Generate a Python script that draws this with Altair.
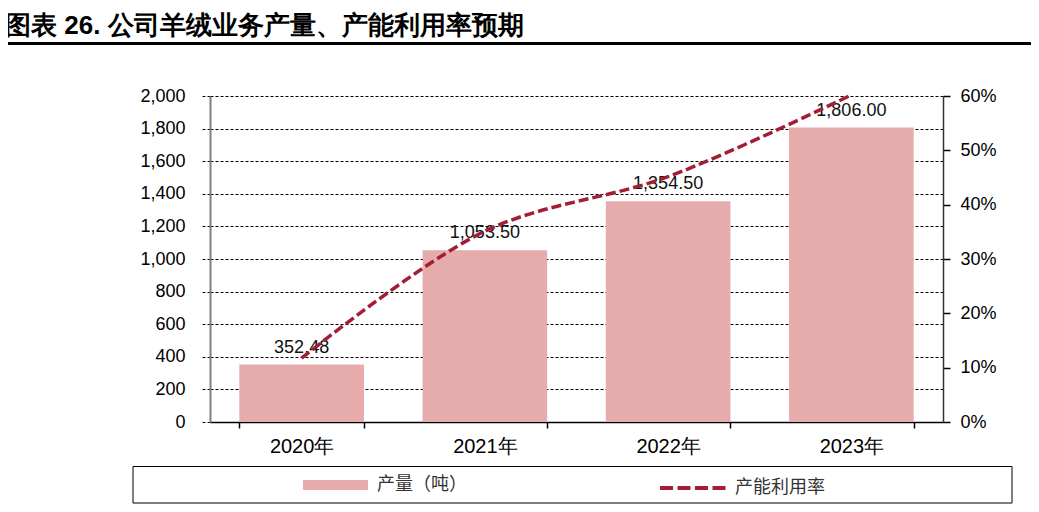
import altair as alt
import pandas as pd

years = ["2020年", "2021年", "2022年", "2023年"]
production = [352.48, 1053.50, 1354.50, 1806.00]
utilization = [0.1175, 0.3512, 0.4515, 0.6020]
bar_series = "产量（吨）"
line_series = "产能利用率"
title_text = "图表 26. 公司羊绒业务产量、产能利用率预期"
left_ticks = [0, 200, 400, 600, 800, 1000, 1200, 1400, 1600, 1800, 2000]
right_ticks = [0, 0.1, 0.2, 0.3, 0.4, 0.5, 0.6]

df = pd.DataFrame({"year": years, "prod": production, "util": utilization,
                   "s1": bar_series, "s2": line_series})

BAR = "#E6ABAB"
LINE = "#A31D35"
W, H = 733, 326
FONT = "Liberation Sans"
CJK = "Noto Sans CJK SC"

xenc = alt.X("year:N", sort=years, title=None,
             scale=alt.Scale(paddingInner=0.32, paddingOuter=0.16),
             axis=alt.Axis(labelAngle=0, labelFontSize=20, labelColor="#000", labelPadding=8,
                           tickBand="extent", tickSize=6, tickColor="#000", tickWidth=1.5,
                           domainColor="#000", domainWidth=1.5, grid=False))

yleft = alt.Y("prod:Q", title=None, scale=alt.Scale(domain=[0, 2000], nice=False),
              axis=alt.Axis(values=left_ticks, format=",.0f", grid=True, gridColor="#000",
                            gridDash=[3, 2], gridWidth=1, tickSize=8, tickColor="#000",
                            tickDash=[3, 2], labelFontSize=18, labelColor="#000", labelPadding=17,
                            domainColor="#808080", domainWidth=2))

yright = alt.Y("util:Q", title=None, scale=alt.Scale(domain=[0, 0.6], nice=False),
               axis=alt.Axis(orient="right", values=right_ticks, format=".0%", grid=False,
                             tickSize=7, tickColor="#000", tickWidth=1.5, labelFontSize=18,
                             labelColor="#000", labelPadding=10, domainColor="#333",
                             domainWidth=1.5))

base = alt.Chart(df)

bars = base.mark_bar().encode(
    x=xenc, y=yleft,
    fill=alt.Fill("s1:N", scale=alt.Scale(range=[BAR]),
                  legend=alt.Legend(orient="none", legendX=93, legendY=356.5, title=None,
                                    symbolType="M-1,-0.155H1V0.155H-1Z", symbolSize=4225,
                                    symbolStrokeWidth=0, symbolOpacity=1,
                                    labelFontSize=18, labelFont=CJK, labelColor="#333",
                                    labelOffset=9, padding=0)),
)

labels = base.mark_text(baseline="bottom", dy=-8, fontSize=18, font=FONT, color="#111").encode(
    x=xenc, y=yleft, text=alt.Text("prod:Q", format=",.2f"))

line = base.mark_line(interpolate="catmull-rom", strokeWidth=3.5, strokeDash=[10, 4]).encode(
    x=xenc, y=yright,
    stroke=alt.Stroke("s2:N", scale=alt.Scale(range=[LINE]),
                      legend=alt.Legend(orient="none", legendX=448, legendY=356.5, title=None,
                                        symbolType="stroke", symbolSize=4489,
                                        symbolStrokeWidth=4, symbolDash=[13, 4.5],
                                        labelFontSize=18, labelFont=CJK, labelColor="#333",
                                        labelOffset=6, padding=0)),
)

one = pd.DataFrame({"t": [title_text]})
title_mark = alt.Chart(one).mark_text(align="left", baseline="alphabetic", fontSize=26,
                                      fontWeight="bold", font=FONT, color="#000").encode(
    x=alt.value(-205), y=alt.value(-62), text="t:N")
underline = alt.Chart(one).mark_rule(color="#000", strokeWidth=3).encode(
    x=alt.value(-202), x2=alt.value(821), y=alt.value(-52.5))
legend_box = alt.Chart(one).mark_rect(fillOpacity=0, stroke="#000", strokeWidth=1).encode(
    x=alt.value(-77), x2=alt.value(802), y=alt.value(370.5), y2=alt.value(407))

left = alt.layer(bars, labels, title_mark, underline, legend_box)
chart = alt.layer(left, line).resolve_scale(y="independent", fill="independent",
                                            stroke="independent").properties(
    width=W, height=H, autosize="none",
    padding={"left": 202, "top": 88, "right": 88, "bottom": 82},
).configure(font=FONT).configure_view(stroke=None)

chart.save("out.html", embed_options={"renderer": "svg", "actions": False})
